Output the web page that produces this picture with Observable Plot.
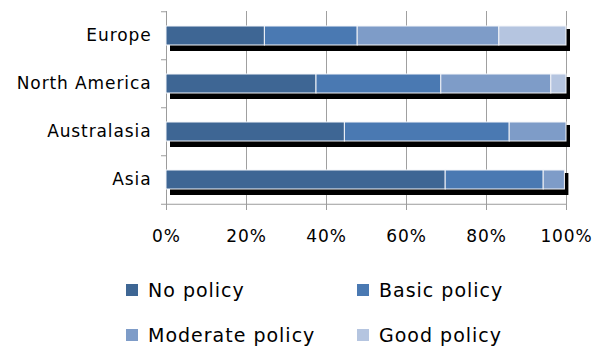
<!DOCTYPE html>
<html>
<head>
<meta charset="utf-8">
<script src="https://cdn.jsdelivr.net/npm/d3@7"></script>
<script src="https://cdn.jsdelivr.net/npm/@observablehq/plot@0.6"></script>
<style>
  html, body { margin: 0; padding: 0; background: #fff; }
  #chart { width: 607px; font-family: "DejaVu Sans", Verdana, sans-serif; }
  .legend {
    display: grid;
    grid-template-columns: 231px 231px;
    grid-auto-rows: 45px;
    margin-left: 126px;
    margin-top: 12px;
    font-size: 19px;
    line-height: 20px;
    letter-spacing: 1px;
    color: #000;
  }
  .legend .item { display: flex; align-items: center; }
  .legend .sw { width: 12px; height: 12px; margin-right: 10px; flex: none; }
</style>
</head>
<body>
<div id="chart"></div>
<script>
// Share of companies by policy level, per region (percent)
const regions = ["Europe", "North America", "Australasia", "Asia"];
const policies = ["No policy", "Basic policy", "Moderate policy", "Good policy"];
const noPolicy = [24.6, 37.5, 44.6, 69.8];
const basicPolicy = [23.2, 31.2, 41.2, 24.5];
const moderatePolicy = [35.4, 27.5, 14.2, 5.3];
const goodPolicy = [16.8, 3.8, 0, 0];
const colors = ["#3E6694", "#4A79B2", "#7E9CC8", "#B5C5E0"];
const xTicks = [0, 20, 40, 60, 80, 100];

const series = [noPolicy, basicPolicy, moderatePolicy, goodPolicy];
const table = [];
regions.forEach((region, i) => {
  policies.forEach((policy, j) => {
    table.push({region, policy, value: series[j][i]});
  });
});

const width = 607, height = 255;
const marginTop = 11, marginBottom = 50;
const step = (height - marginTop - marginBottom) / regions.length;
const gray = "#9c9c9c";

const plot = Plot.plot({
  width, height,
  marginLeft: 166, marginRight: 41, marginTop, marginBottom,
  style: {fontFamily: "DejaVu Sans, Verdana, sans-serif", fontSize: "17px", letterSpacing: "0.9px", color: "#000", background: "#fff"},
  x: {domain: [0, 100], axis: null},
  y: {domain: regions, paddingInner: 0.6, paddingOuter: 0.3, axis: null},
  color: {domain: policies, range: colors},
  marks: [
    Plot.gridX(xTicks.slice(1), {stroke: "#a0a0a0", strokeOpacity: 1}),
    // y axis line and bottom baseline
    Plot.ruleX([0], {stroke: gray}),
    Plot.ruleY([regions[regions.length - 1]], {x1: 0, x2: 100, dy: step / 2, stroke: gray}),
    // category boundary ticks
    Plot.axisY({tickSize: 5, tickFormat: () => "", label: null, stroke: gray, dy: -step / 2}),
    Plot.axisY([regions[regions.length - 1]], {tickSize: 5, tickFormat: () => "", label: null, stroke: gray, dy: step / 2}),
    // drop shadow under each stacked bar
    Plot.rectX(table, Plot.groupY({x: "sum"}, {x: "value", y: "region", fill: "#000", dx: 4, dy: 3, insetBottom: -3})),
    Plot.rectX(table, Plot.stackX({x: "value", y: "region", fill: "policy", stroke: "#f4f6fa", strokeWidth: 1, order: null})),
    Plot.axisY({tickSize: 0, tickPadding: 15, label: null, fill: "#000"}),
    Plot.axisX(xTicks, {tickSize: 5, tickPadding: 19, label: null, stroke: gray, fill: "#000", tickFormat: d => d + "%"})
  ]
});

const chart = document.getElementById("chart");
chart.appendChild(plot);

const legend = document.createElement("div");
legend.className = "legend";
policies.forEach((p, i) => {
  const item = document.createElement("div");
  item.className = "item";
  const sw = document.createElement("span");
  sw.className = "sw";
  sw.style.background = colors[i];
  item.appendChild(sw);
  item.appendChild(document.createTextNode(p));
  legend.appendChild(item);
});
chart.appendChild(legend);
</script>
</body>
</html>
